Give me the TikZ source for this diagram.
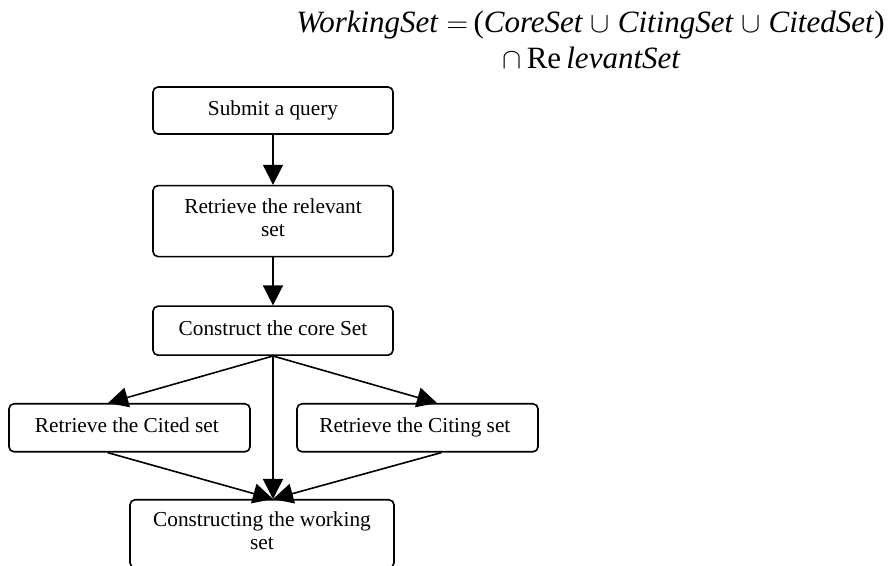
\documentclass[tikz,border=0pt]{standalone}
\usepackage{fontspec}
\setmainfont{Liberation Serif}
\usepackage{tikz}
\usetikzlibrary{
	arrows,shapes,positioning,calc
}
\tikzset{
  auto,
  flowbox/.style={
    rectangle, minimum width=120pt, rounded corners=2.5pt,
    line width=0.8pt, draw=black, fill=white, align=center,
    font=\fontsize{10.65}{11.5}\selectfont,
    execute at begin node=\strut, execute at end node=\strut
  },
  %
  formula/.style={
    inner sep=0pt, font=\fontsize{15.5}{18}\selectfont
  }
}
\usetikzlibrary{arrows.meta}
\tikzset{>={Triangle[length=10pt,width=10pt]}}

\begin{document}
\begin{tikzpicture}
\useasboundingbox (0,0) rectangle (445.5pt,-283pt);

\node(eqtop)[formula, anchor=base east] at (442.5pt,-16.5pt){
    \textit{WorkingSet} $=$\,(\textit{CoreSet} $\cup$ \textit{CitingSet} $\cup$ \textit{CitedSet})
};
\node(eqbottom)[formula, anchor=base west] at (251pt,-34.5pt){
    $\cap$\,Re\,\textit{levantSet}
};

\node(query)[flowbox, minimum height=23.5pt] at (136.5pt,-55.25pt){Submit a query};

\node(relevant)[flowbox, minimum height=35.5pt, below=25pt of query]{
    Retrieve the relevant\\ set
};

\node(core)[flowbox, minimum height=24.5pt, below=24pt of relevant]{Construct the core Set};

\node(cited)[flowbox, minimum width=120.5pt, minimum height=24pt, below=23.5pt of core, xshift=-71.75pt]{
    Retrieve the Cited set
};

\node(citing)[flowbox, minimum width=120.5pt, minimum height=24pt, below=23.5pt of core, xshift=72.25pt]{
    Retrieve the Citing set
};

\node(working)[flowbox, minimum width=132pt, minimum height=34pt, below=71.5pt of core, xshift=-5.5pt]{
    Constructing the working\\ set
};

\coordinate(meet) at ([xshift=5.5pt]working.north);

\draw[->, line width=0.8pt] (query) -- (relevant);
\draw[->, line width=0.8pt] (relevant) -- (core);
\draw[->, line width=0.8pt] (core.south) -- ([xshift=-10.75pt]cited.north);
\draw[->, line width=0.8pt] (core.south) -- ([xshift=9.75pt]citing.north);
\draw[->, line width=0.8pt] (core.south) -- (meet);
\draw[->, line width=0.8pt] ([xshift=-11pt]cited.south) -- (meet);
\draw[->, line width=0.8pt] ([xshift=12pt]citing.south) -- (meet);

\end{tikzpicture}
\end{document}
